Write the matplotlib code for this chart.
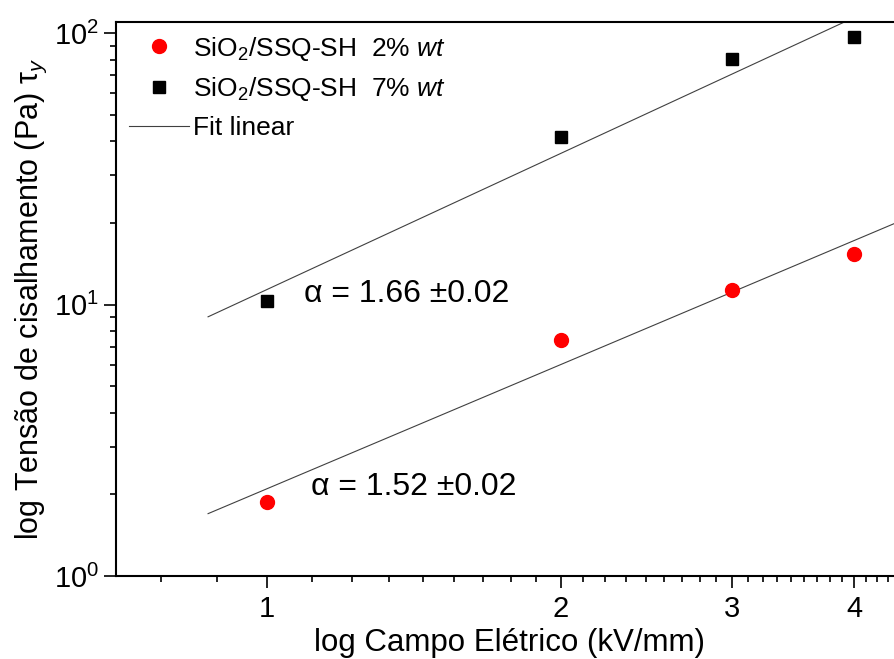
import matplotlib
matplotlib.use("Agg")
import matplotlib.pyplot as plt
import numpy as np
from matplotlib.ticker import FixedLocator, NullFormatter, LogLocator, LogFormatterMathtext
from matplotlib.lines import Line2D

plt.rcParams['font.family'] = ['Liberation Sans', 'DejaVu Sans']
plt.rcParams['mathtext.fontset'] = 'custom'
plt.rcParams['mathtext.rm'] = 'Liberation Sans'
plt.rcParams['mathtext.it'] = 'Liberation Sans:italic'
plt.rcParams['mathtext.bf'] = 'Liberation Sans:bold'

# data
campo = [1, 2, 3, 4]                     # kV/mm
tensao_2 = [1.88, 7.43, 11.3, 15.3]      # Pa, 2% wt
tensao_7 = [10.35, 41.3, 80.2, 96.7]     # Pa, 7% wt
fit_range = [0.87, 4.5]
xticks = [1, 2, 3, 4]
xticklabels = ['1', '2', '3', '4']

fig = plt.figure(figsize=(8.94, 6.59), dpi=100)
ax = fig.add_axes([116 / 894, 83 / 659, 788 / 894, 554 / 659])

# linear fit in log-log space
xf = np.logspace(np.log10(fit_range[0]), np.log10(fit_range[1]), 50)
for ys in (tensao_2, tensao_7):
    p = np.polyfit(np.log10(campo), np.log10(ys), 1)
    ax.plot(xf, 10 ** np.polyval(p, np.log10(xf)), color='#404040', lw=0.8, zorder=2)

ax.plot(campo, tensao_2, 'o', color='#ff0000', ms=10, mec='#ff0000', zorder=3)
ax.plot(campo, tensao_7, 's', color='black', ms=8.5, zorder=3)

ax.set_xscale('log')
ax.set_yscale('log')
ax.set_xlim(0.7, 4.5)
ax.set_ylim(1, 110)

# Origin style: 8 minor ticks between major ticks
ax.xaxis.set_major_locator(FixedLocator(xticks))
ax.set_xticklabels(xticklabels)
minors = [m + k / 9 for m in [0, 1, 2, 3, 4] for k in range(1, 9)]
ax.xaxis.set_minor_locator(FixedLocator(minors))
ax.xaxis.set_minor_formatter(NullFormatter())

ax.yaxis.set_major_locator(LogLocator(base=10))
ax.yaxis.set_major_formatter(LogFormatterMathtext())
ax.yaxis.set_minor_locator(LogLocator(base=10, subs=np.arange(2, 10)))
ax.yaxis.set_minor_formatter(NullFormatter())

for s in ax.spines.values():
    s.set_linewidth(1.5)
ax.tick_params(which='major', direction='out', length=8.5, width=1.2, labelsize=21,
               top=False, right=False)
ax.tick_params(which='minor', direction='out', length=4.5, width=1.2, top=False, right=False)
ax.tick_params(axis='x', pad=5)

ax.set_xlabel('log Campo Elétrico (kV/mm)', fontsize=22.5, labelpad=4)
ax.set_ylabel('log Tensão de cisalhamento (Pa) τ$_y$', fontsize=22, labelpad=4)

ax.text(1.09, 10.9, 'α = 1.66 ±0.02', fontsize=23, va='center', ha='left')
ax.text(1.11, 2.13, 'α = 1.52 ±0.02', fontsize=23, va='center', ha='left')

handles = [
    Line2D([], [], ls='none', marker='o', color='#ff0000', ms=10),
    Line2D([], [], ls='none', marker='s', color='black', ms=8.5),
    Line2D([], [], color='#404040', lw=0.8),
]
labels = [r'SiO$_2$/SSQ-SH  $\mathit{2\%\ wt}$',
          r'SiO$_2$/SSQ-SH  $\mathit{7\%\ wt}$',
          'Fit linear']
ax.legend(handles, labels, loc='upper left', bbox_to_anchor=(-0.004, 1.006), frameon=False,
          fontsize=19, handlelength=2.3, handletextpad=0.12, labelspacing=0.48,
          borderaxespad=0.3, borderpad=0.3)

fig.savefig('out.png', dpi=100)
